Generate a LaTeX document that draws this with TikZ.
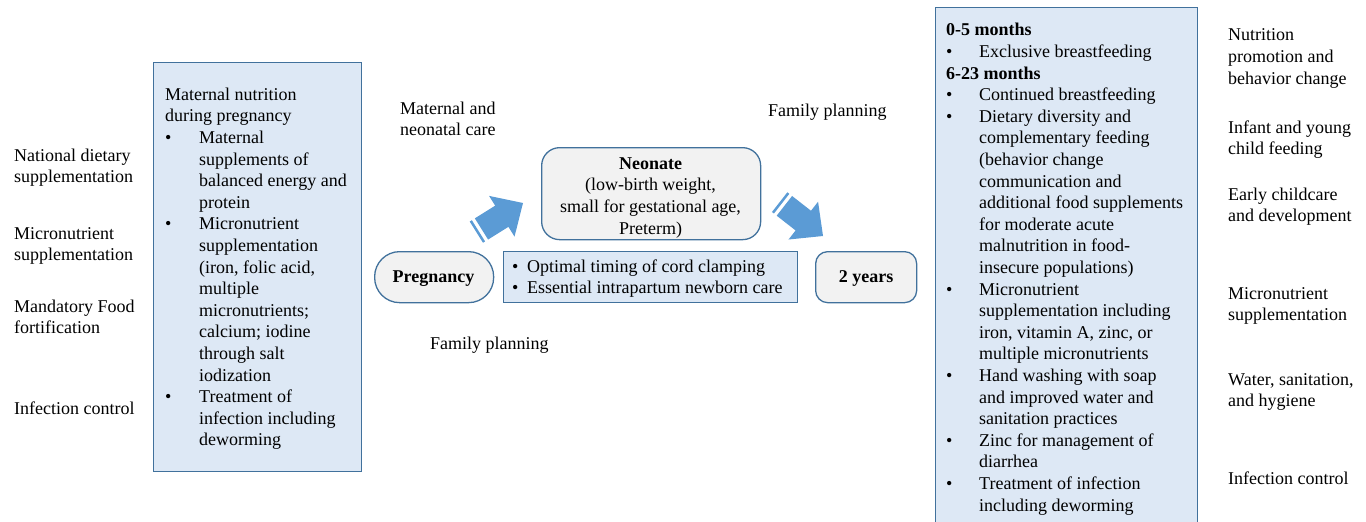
\documentclass[tikz,border=0pt]{standalone}
\usepackage{fontspec}
\setmainfont{Liberation Serif}
\definecolor{bdr}{RGB}{65,113,156}
\definecolor{lb}{RGB}{221,232,245}
\definecolor{gr}{RGB}{242,242,242}
\definecolor{arr}{RGB}{91,155,213}
\newcommand\bl{\makebox[34pt][l]{•}}
\newcommand\ind{\hspace*{34pt}}
\newcommand\blr{\makebox[33pt][l]{•}}
\newcommand\indr{\hspace*{33pt}}
\begin{document}
\begin{tikzpicture}[x=1pt,y=-1pt,
  txt/.style={anchor=north west, inner sep=0pt, align=left, font=\fontsize{18}{21.6}\selectfont},
  ctxt/.style={anchor=north, inner sep=0pt, align=center, font=\fontsize{18}{21.6}\selectfont},
  btxt/.style={anchor=base, inner sep=0pt, font=\fontsize{18}{21.6}\selectfont\bfseries},
  bluebox/.style={draw=bdr, fill=lb, line width=1.3pt, anchor=north west, inner sep=0pt},
  graybox/.style={draw=bdr, fill=gr, line width=1.3pt, anchor=north west, inner sep=0pt},
  fatarrow/.pic={
    \fill[arr] (0,0) -- (-25,-24) -- (-25,-12.5) -- (-49,-12.5) -- (-49,12.5) -- (-25,12.5) -- (-25,24) -- cycle;
    \fill[arr] (-52.5,-12.5) rectangle (-55,12.5);
  }]
\useasboundingbox (0,0) rectangle (1366,522);
\clip (0,0) rectangle (1366,522);

% boxes
\node[bluebox, minimum width=208pt, minimum height=409pt] (lbox) at (153,62) {};
\node[bluebox, minimum width=262pt, minimum height=530pt] (rbox) at (935,7) {};
\node[graybox, rounded corners=18pt, minimum width=219pt, minimum height=92pt] (neo) at (541,147) {};
\node[graybox, rounded corners=25pt, minimum width=119pt, minimum height=51pt] (preg) at (374,251) {};
\node[bluebox, minimum width=294pt, minimum height=51pt] (mid) at (503,251) {};
\node[graybox, rounded corners=12pt, minimum width=101pt, minimum height=51pt] (yrs) at (815,251) {};

% arrows
\pic[rotate=32] at (523,203) {fatarrow};
\pic[rotate=-38] at (823,236) {fatarrow};

% left labels
\node[txt] (l1) at (14,161-15.12) {\strut National dietary\\supplementation};
\node[txt] (l2) at (14,239-15.12) {\strut Micronutrient\\supplementation};
\node[txt] (l3) at (14,312-15.12) {\strut Mandatory Food\\fortification};
\node[txt] (l4) at (14,414-15.12) {\strut Infection control};

% left box text
\node[txt] (lt) at (165,100-15.12) {\strut Maternal nutrition\\during pregnancy\\
\bl Maternal\\\ind supplements of\\\ind balanced energy and\\\ind protein\\
\bl Micronutrient\\\ind supplementation\\\ind (iron, folic acid,\\\ind multiple\\\ind micronutrients;\\\ind calcium; iodine\\\ind through salt\\\ind iodization\\
\bl Treatment of\\\ind infection including\\\ind deworming};

% middle labels
\node[txt] (mn) at (400,114-15.12) {\strut Maternal and\\neonatal care};
\node[txt] (fp1) at (768,116-15.12) {\strut Family planning};
\node[txt] (fp2) at (430,349-15.12) {\strut Family planning};

\node[ctxt] (neot) at (650.5,169-15.12) {\strut\textbf{Neonate}\\(low-birth weight,\\small for gestational age,\\Preterm)};
\node[btxt] (pregt) at (433.5,282) {Pregnancy};
\node[btxt] (yrst) at (866,282.5) {2 years};
\node[txt] (midt) at (512,272-15.12) {\strut\makebox[15pt][l]{•}Optimal timing of cord clamping\\\makebox[15pt][l]{•}Essential intrapartum newborn care};

% right box text
\node[txt] (rt) at (946,35.7-15.12) {\strut\textbf{0-5 months}\\
\blr Exclusive breastfeeding\\
\textbf{6-23 months}\\
\blr Continued breastfeeding\\
\blr Dietary diversity and\\\indr complementary feeding\\\indr (behavior change\\\indr communication and\\\indr additional food supplements\\\indr for moderate acute\\\indr malnutrition in food-\\\indr insecure populations)\\
\blr Micronutrient\\\indr supplementation including\\\indr iron, vitamin A, zinc, or\\\indr multiple micronutrients\\
\blr Hand washing with soap\\\indr and improved water and\\\indr sanitation practices\\
\blr Zinc for management of\\\indr diarrhea\\
\blr Treatment of infection\\\indr including deworming};

% right labels
\node[txt] (r1) at (1228,40.7-15.12) {\strut Nutrition\\promotion and\\behavior change};
\node[txt] (r2) at (1228,133-15.12) {\strut Infant and young\\child feeding};
\node[txt] (r3) at (1228,200-15.12) {\strut Early childcare\\and development};
\node[txt] (r4) at (1228,299-15.12) {\strut Micronutrient\\supplementation};
\node[txt] (r5) at (1228,385-15.12) {\strut Water, sanitation,\\and hygiene};
\node[txt] (r6) at (1228,484-15.12) {\strut Infection control};
\end{tikzpicture}
\end{document}
